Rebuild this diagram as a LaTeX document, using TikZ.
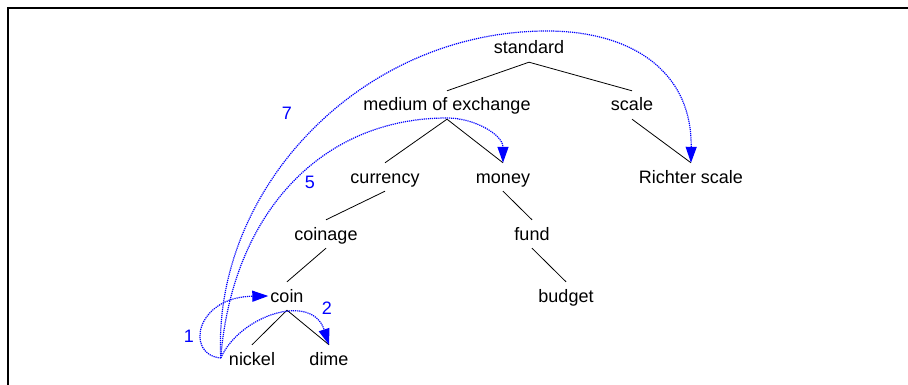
\documentclass[tikz,border=0pt]{standalone}
\usepackage{fontspec}
\setmainfont{Liberation Sans}
\usetikzlibrary{arrows.meta}
\tikzset{
  word/.style={inner xsep=2pt, inner ysep=0pt, text height=12pt, text depth=0pt, minimum height=28pt},
  hop/.style={blue, line width=1.2pt, dash pattern=on 1.2pt off 0.9pt, -{Triangle[length=16pt,width=11pt]}},
  hopnum/.style={blue, text height=12pt, text depth=0pt}
}
\begin{document}
\begin{tikzpicture}[x=1pt, y=-1pt, font=\fontsize{18}{21}\selectfont]
				\useasboundingbox (0,0) rectangle (908,385);
				%frame
				\draw[line width=2pt] (7.5,385) -- (7.5,8.5) -- (908,8.5);
				
				%tree
				\node[word] (std) at (529, 48){standard};
				\node[word] (moe) at (447, 105){medium of exchange};
				\node[word] (scl) at (632, 105){scale};
				\node[word] (cur) at (385, 177){currency};
				\node[word] (mon) at (503, 177){money};
				\node[word] (ric) at (691, 177){Richter scale};
				\node[word] (cng) at (326, 234){coinage};
				\node[word] (fnd) at (532, 234){fund};
				\node[word] (coi) at (287, 296){coin};
				\node[word] (bud) at (566, 296){budget};
				\node[word] (nik) at (252, 359){nickel};
				\node[word] (dim) at (329, 359){dime};
				
				\foreach \a/\b in {std/moe, std/scl, moe/cur, moe/mon, scl/ric, cur/cng, mon/fnd, cng/coi, fnd/bud, coi/nik, coi/dim}{
					\draw[line width=0.8pt] (\a.south) -- (\b.north);
				}
				
				%hops from nickel
				\coordinate (src) at ([xshift=-6pt, yshift=1pt]nik.west);
				\draw[hop] (src) .. controls (185,355) and (195,297) .. (coi.west);
				\draw[hop] (src) .. controls (240,315) and (312,292) .. (dim.north);
				\draw[hop] (src) .. controls (232,215) and (320,118) .. (447,118)
					.. controls (475,118) and (503,135) .. (mon.north);
				\draw[hop] (src) .. controls (212,190) and (360,31) .. (547,31)
					.. controls (630,31) and (692,70) .. (ric.north);
				
				\node[hopnum] (n1) at (189, 336){1};
				\node[hopnum] (n2) at (327, 308){2};
				\node[hopnum] (n5) at (310, 183){5};
				\node[hopnum] (n7) at (287, 114){7};
			\end{tikzpicture}
\end{document}
